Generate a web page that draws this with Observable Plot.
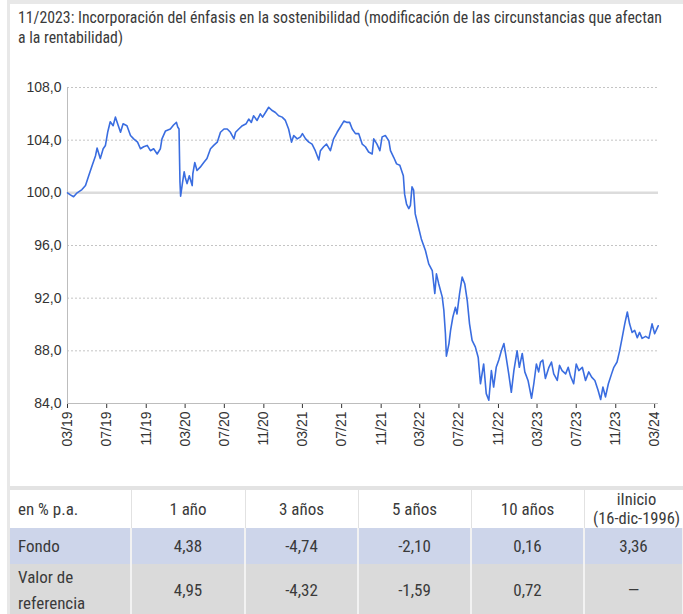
<!DOCTYPE html>
<html><head><meta charset="utf-8">
<script src="https://cdn.jsdelivr.net/npm/d3@7"></script>
<script src="https://cdn.jsdelivr.net/npm/@observablehq/plot@0.6"></script>
<style>
html,body{margin:0;padding:0;background:#fff}
body{width:683px;height:614px;overflow:hidden;position:relative;font-family:"Liberation Sans Narrow","Roboto Condensed",Roboto,sans-serif;color:#222}
#ftop{position:absolute;left:7px;top:0;width:676px;height:4px;background:#e8e8e8}
#fleft{position:absolute;left:7px;top:0;width:3px;height:614px;background:#e8e8e8}
#title{position:absolute;left:18px;top:8px;width:650px;font-size:15.8px;line-height:20px;color:#3a3a3a}
#chart{position:absolute;left:0;top:60px}
#sep{position:absolute;left:10px;top:486px;width:673px;height:4px;background:#e3e3e3}
table{position:absolute;left:10px;top:490px;border-collapse:collapse;table-layout:fixed;width:673px;font-size:17px;color:#3a3a3a}
td{padding:0;text-align:center;line-height:19px;overflow:visible;white-space:nowrap}
td:first-child{text-align:left;padding-left:8px}
tr.h td{height:38px;background:#fff;border-right:1px solid #e2e2e2}
tr.h td:last-child{font-size:16.5px;line-height:19px;padding-left:6px}
tr.f td{height:36px;background:#cdd5ea;border-right:2px solid #f2f2f2}
tr.v td{height:50px;background:#dadada;border-right:2px solid #f2f2f2;line-height:26px}
</style></head>
<body>
<div id="ftop"></div><div id="fleft"></div>
<div id="title"></div>
<div id="chart"></div>
<div id="sep"></div>
<table id="tbl"></table>
<script>
const titleText = "11/2023: Incorporación del énfasis en la sostenibilidad (modificación de las circunstancias que afectan a la rentabilidad)";

const dates2019 = ["2019-03-01","2019-03-10","2019-03-20","2019-03-31","2019-04-15","2019-04-26","2019-05-06","2019-05-17","2019-05-27","2019-06-01","2019-06-11","2019-06-20","2019-06-27","2019-07-04","2019-07-12","2019-07-21","2019-07-28","2019-08-04","2019-08-13","2019-08-21","2019-09-02","2019-09-13","2019-09-23","2019-10-05","2019-10-14","2019-10-24","2019-11-04","2019-11-14","2019-11-24","2019-12-05","2019-12-15","2019-12-20","2019-12-31"];
const values2019 = [100.0,99.85,99.7,100.0,100.25,100.56,101.3,102.1,102.8,103.4,102.6,103.35,103.6,104.6,105.4,105.1,105.75,105.25,104.6,105.25,105.1,104.35,104.1,103.85,103.35,103.5,103.6,103.2,103.35,102.95,103.35,104.1,104.7];

const dates2020 = ["2020-01-15","2020-01-25","2020-02-03","2020-02-07","2020-02-11","2020-02-14","2020-02-16","2020-02-22","2020-02-27","2020-03-02","2020-03-07","2020-03-14","2020-03-23","2020-03-25","2020-03-31","2020-04-07","2020-04-17","2020-04-28","2020-05-08","2020-05-19","2020-05-29","2020-06-09","2020-06-19","2020-06-30","2020-07-10","2020-07-20","2020-07-31","2020-08-05","2020-08-15","2020-08-26","2020-09-07","2020-09-15","2020-09-23","2020-09-30","2020-10-11","2020-10-21","2020-10-28","2020-11-06","2020-11-16","2020-11-27","2020-12-07","2020-12-17","2020-12-28"];
const values2020 = [104.85,105.15,105.35,105.0,104.85,100.8,99.75,100.8,101.6,101.1,100.7,101.3,100.55,101.45,102.3,101.7,101.95,102.3,102.6,103.35,103.6,103.85,104.6,104.85,104.85,104.6,104.1,104.6,104.85,105.1,105.25,105.6,105.35,105.85,105.5,106.0,105.75,106.1,106.5,106.25,106.1,105.85,105.75];

const dates2021 = ["2021-01-07","2021-01-17","2021-01-26","2021-02-02","2021-02-13","2021-02-23","2021-03-01","2021-03-11","2021-03-21","2021-03-31","2021-04-10","2021-04-21","2021-04-26","2021-05-06","2021-05-15","2021-05-27","2021-06-06","2021-06-17","2021-06-27","2021-07-08","2021-07-18","2021-07-26","2021-08-03","2021-08-13","2021-08-23","2021-09-03","2021-09-13","2021-09-23","2021-10-04","2021-10-09","2021-10-19","2021-10-28","2021-11-04","2021-11-14","2021-11-25","2021-11-30","2021-12-10","2021-12-19","2021-12-29"];
const values2021 = [105.5,104.85,103.85,104.35,104.1,104.25,104.5,104.1,103.85,103.7,103.2,102.5,103.2,103.5,103.7,103.2,104.1,104.6,105.0,105.45,105.35,105.35,104.85,104.5,104.5,103.7,103.5,103.1,102.95,104.1,103.7,103.2,104.25,104.35,103.95,103.2,102.7,102.2,102.1];

const dates2022 = ["2022-01-09","2022-01-13","2022-01-19","2022-01-26","2022-01-31","2022-02-05","2022-02-10","2022-02-15","2022-02-24","2022-03-06","2022-03-19","2022-03-29","2022-04-09","2022-04-17","2022-04-22","2022-04-29","2022-05-10","2022-05-15","2022-05-20","2022-05-23","2022-05-31","2022-06-05","2022-06-12","2022-06-20","2022-06-25","2022-07-03","2022-07-11","2022-07-19","2022-07-27","2022-08-03","2022-08-11","2022-08-21","2022-08-30","2022-09-06","2022-09-16","2022-09-24","2022-10-02","2022-10-10","2022-10-17","2022-10-25","2022-11-02","2022-11-10","2022-11-18","2022-11-25","2022-12-03","2022-12-11","2022-12-19","2022-12-29"];
const values2022 = [101.3,99.9,99.15,98.8,99.05,100.45,100.2,98.4,97.5,96.5,95.6,94.6,94.1,92.35,93.85,93.1,92.1,91.1,89.3,87.6,88.55,89.55,90.55,91.3,90.8,92.35,93.6,93.1,91.8,90.05,88.8,88.3,87.5,85.5,87.0,84.75,84.25,86.5,85.25,86.75,87.3,88.0,88.55,87.5,86.25,84.85,86.5,88.0];

const dates2023 = ["2023-01-05","2023-01-14","2023-01-22","2023-02-01","2023-02-12","2023-02-19","2023-02-27","2023-03-06","2023-03-12","2023-03-19","2023-03-27","2023-04-07","2023-04-15","2023-04-22","2023-05-03","2023-05-10","2023-05-18","2023-05-29","2023-06-06","2023-06-13","2023-06-23","2023-07-01","2023-07-09","2023-07-20","2023-07-30","2023-08-09","2023-08-18","2023-08-28","2023-09-07","2023-09-15","2023-09-22","2023-09-30","2023-10-09","2023-10-19","2023-10-26","2023-11-05","2023-11-13","2023-11-21","2023-11-29","2023-12-07","2023-12-14","2023-12-22","2023-12-30"];
const values2023 = [86.75,87.8,86.4,85.75,84.4,85.5,87.0,86.4,87.15,87.3,85.9,86.75,87.15,86.25,85.75,86.9,86.5,86.25,86.75,86.1,85.5,87.0,86.5,86.75,85.75,86.4,86.0,85.75,85.0,84.3,85.25,84.5,85.5,86.25,86.75,87.15,88.0,89.0,90.05,90.95,90.05,89.4,89.55];

const dates2024 = ["2024-01-07","2024-01-14","2024-01-22","2024-02-02","2024-02-12","2024-02-22","2024-03-01","2024-03-12"];
const values2024 = [89.0,89.4,88.95,89.1,88.95,90.05,89.3,89.9];

const xDomain = ["2019-03-01","2024-03-13"];
const xTicks = ["2019-03-01","2019-07-01","2019-11-01","2020-03-01","2020-07-01","2020-11-01","2021-03-01","2021-07-01","2021-11-01","2022-03-01","2022-07-01","2022-11-01","2023-03-01","2023-07-01","2023-11-01","2024-03-01"];
const yDomain = [84, 108];
const yTicks = [84, 88, 92, 96, 100, 104, 108];
const gridDotted = [88, 92, 96, 104, 108];
const baseLine = [100];

const tableHeader = ["en % p.a.", "1 año", "3 años", "5 años", "10 años", "iInicio<br>(16-dic-1996)"];
const fondoRow = ["Fondo", "4,38", "-4,74", "-2,10", "0,16", "3,36"];
const valorRow = ["Valor de<br>referencia", "4,95", "-4,32", "-1,59", "0,72", "—"];
const colWidths = [121, 114, 113, 113, 113, 99];

document.getElementById("title").textContent = titleText;

const allDates = [...dates2019, ...dates2020, ...dates2021, ...dates2022, ...dates2023, ...dates2024];
const allValues = [...values2019, ...values2020, ...values2021, ...values2022, ...values2023, ...values2024];
const series = allDates.map((d, i) => ({date: new Date(d), value: allValues[i]}));
const pd = s => new Date(s);

const chart = Plot.plot({
  width: 683, height: 405,
  marginLeft: 67, marginRight: 25, marginTop: 27, marginBottom: 62,
  style: {fontFamily: "'Liberation Sans', Arial, sans-serif", fontSize: "14px", color: "#333", background: "transparent", overflow: "visible"},
  x: {type: "utc", domain: xDomain.map(pd), ticks: xTicks.map(pd), tickFormat: d3.utcFormat("%m/%y"), tickRotate: -90, tickSize: 5, tickPadding: 3, label: null},
  y: {domain: yDomain, ticks: yTicks, tickFormat: d => d.toFixed(1).replace(".", ","), tickSize: 0, tickPadding: 6, label: null},
  marks: [
    Plot.ruleY(gridDotted, {stroke: "#c4c4c4", strokeDasharray: "2,2", strokeWidth: 1}),
    Plot.ruleY(baseLine, {stroke: "#dcdcdc", strokeWidth: 2.5}),
    Plot.ruleY([yDomain[0]], {stroke: "#bdbdbd"}),
    Plot.ruleX([pd(xDomain[0])], {stroke: "#bdbdbd"}),
    Plot.lineY(series, {x: "date", y: "value", stroke: "#3a6de0", strokeWidth: 1.6})
  ]
});
document.getElementById("chart").appendChild(chart);

const tbl = document.getElementById("tbl");
const cg = document.createElement("colgroup");
colWidths.forEach(w => { const c = document.createElement("col"); c.style.width = w + "px"; cg.appendChild(c); });
tbl.appendChild(cg);
[[tableHeader, "h"], [fondoRow, "f"], [valorRow, "v"]].forEach(([row, cls]) => {
  const tr = document.createElement("tr"); tr.className = cls;
  row.forEach(t => { const td = document.createElement("td"); td.innerHTML = t; tr.appendChild(td); });
  tbl.appendChild(tr);
});
</script>
</body></html>
